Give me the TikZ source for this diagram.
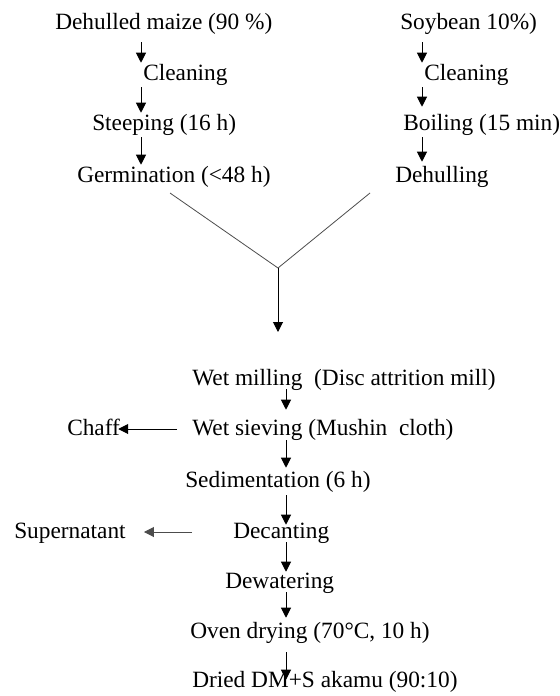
\documentclass[tikz,border=0pt]{standalone}
\usepackage{fontspec}
\setmainfont{Liberation Serif}
\usetikzlibrary{arrows.meta}

\tikzset{
  lbl/.style={anchor=base west, inner sep=0pt, text height=12pt, text depth=3pt,
    font=\fontsize{17.5}{21}\selectfont},
  arr/.style={-{Triangle[length=7.5pt,width=7.5pt]}, line width=0.75pt,
    shorten <=2.25pt, shorten >=0.75pt},
  vline/.style={line width=0.6pt, color=black!70}
}

\begin{document}
\begin{tikzpicture}[x=0.75pt,y=0.75pt,yscale=-1,xscale=1]
        \useasboundingbox (0,0) rectangle (560,696);

        % columns of the arrows
        \coordinate (colL) at (141,0);
        \coordinate (colR) at (422,0);
        \coordinate (colM) at (286,0);

        % Text Node
        \node [lbl] (dm) at (55,29) {Dehulled maize (90 \%)};
        % Text Node
        \node [lbl] (cl1) at (143,80) {Cleaning};
        % Text Node
        \node [lbl] (st) at (92,130) {Steeping (16 h)};
        % Text Node
        \node [lbl] (ge) at (77,182) {Germination (<48 h)};
        % Text Node
        \node [lbl] (sb) at (400,29) {Soybean 10\%)};
        % Text Node
        \node [lbl] (cl2) at (424,80) {Cleaning};
        % Text Node
        \node [lbl] (bo) at (403,130) {Boiling (15 min)};
        % Text Node
        \node [lbl] (dh) at (395,182) {Dehulling};

        % Text Node
        \node [lbl] (wm) at (192,385) {Wet milling\ \ (Disc attrition mill)};
        % Text Node
        \node [lbl] (ws) at (192,435) {Wet sieving (Mushin\ \ cloth)};
        % Text Node
        \node [lbl] (ch) at (67,435) {Chaff};
        % Text Node
        \node [lbl] (se) at (185,487) {Sedimentation (6 h)};
        % Text Node
        \node [lbl] (de) at (233,538) {Decanting};
        % Text Node
        \node [lbl] (su) at (14,538) {Supernatant};
        % Text Node
        \node [lbl] (dw) at (225,588) {Dewatering};
        % Text Node
        \node [lbl] (ov) at (190,638) {Oven drying (70°C, 10 h)};
        % Text Node
        \node [lbl] (dr) at (192,687) {Dried DM+S akamu (90:10)};

        %Straight Lines - maize
        \draw [arr, shorten <=6.75pt] (dm.south -| colL) -- (cl1.north -| colL);
        \draw [arr] (cl1.south -| colL) -- (st.north -| colL);
        \draw [arr] (st.south -| colL) -- (ge.north -| colL);
        %Straight Lines - soybean
        \draw [arr, shorten <=6.75pt] (sb.south -| colR) -- (cl2.north -| colR);
        \draw [arr, shorten >=5.25pt] (cl2.south -| colR) -- (bo.north -| colR);
        \draw [arr, shorten >=3pt] (bo.south -| colR) -- (dh.north -| colR);

        %Straight Lines - joining
        \coordinate (vl) at (170,193);
        \coordinate (vr) at (370,193);
        \coordinate (mix) at (278,268);
        \coordinate (drop) at (278,332);
        \draw [vline] (vl) -- (mix) -- (vr);
        \draw [arr, shorten <=0pt, shorten >=0pt] (mix) -- (drop);

        %Straight Lines - mixed
        \draw [arr, shorten <=0pt, shorten >=6.75pt] (wm.south -| colM) -- (ws.north -| colM);
        \draw [arr, shorten <=0.75pt, shorten >=2.25pt] (ws.south -| colM) -- (se.north -| colM);
        \draw [arr, shorten <=3pt, shorten >=-2.25pt] (se.south -| colM) -- (de.north -| colM);
        \draw [arr, shorten <=0pt, shorten >=0pt] (de.south -| colM) -- (dw.north -| colM);
        \draw [arr, shorten <=0pt, shorten >=3pt] (dw.south -| colM) -- (ov.north -| colM);
        \draw [arr, shorten <=7.5pt, shorten >=-6.75pt] (ov.south -| colM) -- (dr.north -| colM);

        %Straight Lines - side streams
        \draw [arr, shorten <=11.25pt, shorten >=-1.5pt] (ws.west) -- (ch.east);
        \draw [arr, vline, line width=0.75pt, shorten <=0pt, shorten >=13.5pt] (ws.west |- de.west) -- (su.east);

\end{tikzpicture}
\end{document}
